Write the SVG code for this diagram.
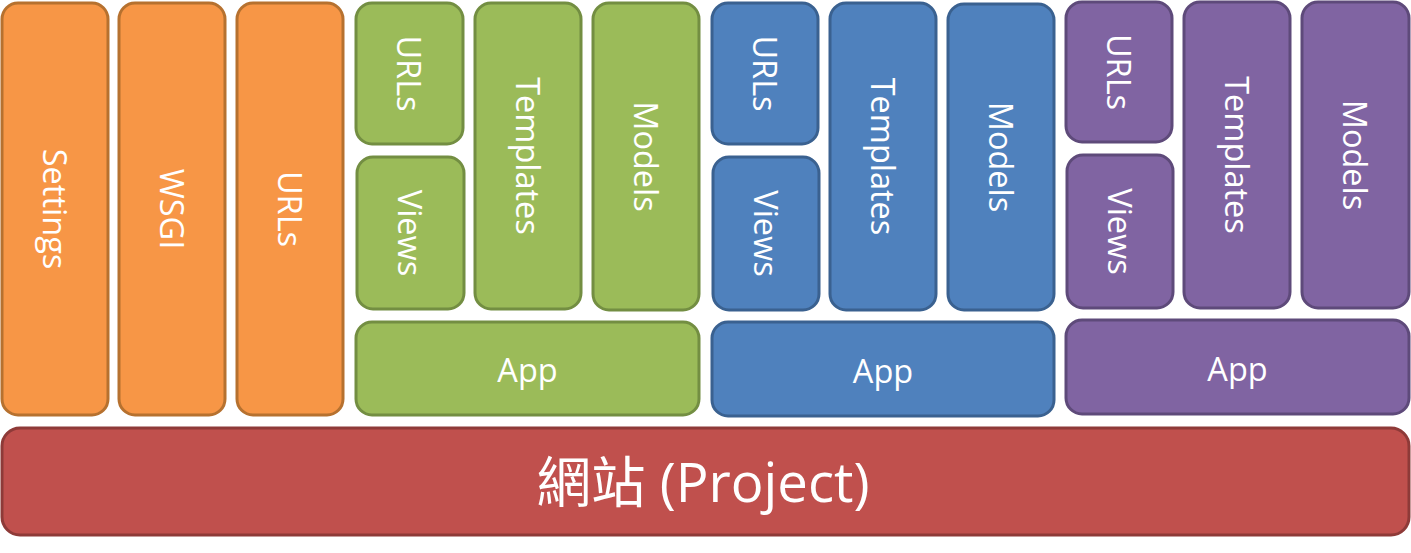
<svg xmlns="http://www.w3.org/2000/svg" width="1411" height="553" viewBox="0 0 1411 553">
<style>
rect{stroke-width:3}
.o rect{fill:#F79646;stroke:#B6712F}
.g rect{fill:#9BBB59;stroke:#738E42}
.b rect{fill:#4F81BD;stroke:#3A6190}
.p rect{fill:#8064A2;stroke:#5E4A7A}
.r rect{fill:#C0504D;stroke:#8E3A38}
text{fill:#fff;font-family:"Open Sans","Noto Sans",sans-serif;font-size:32.5px;text-anchor:middle;dominant-baseline:central}
.big{font-family:"Open Sans","Noto Sans CJK TC",sans-serif;font-size:54.5px}
</style>
<g class="o">
<g id="settings"><rect x="2" y="3" width="106" height="412" rx="16"/><text transform="translate(55,209) rotate(90)">Settings</text></g>
<g id="wsgi"><rect x="119" y="3" width="106" height="412" rx="16"/><text transform="translate(172,209) rotate(90)">WSGI</text></g>
<g id="urls"><rect x="237" y="3" width="106" height="412" rx="16"/><text transform="translate(290,209) rotate(90)">URLs</text></g>
</g>
<g class="g">
<g id="g-urls"><rect x="356" y="3" width="107" height="141" rx="16"/><text transform="translate(409.5,73.5) rotate(90)">URLs</text></g>
<g id="g-views"><rect x="357" y="157" width="107" height="152" rx="16"/><text transform="translate(410.5,233) rotate(90)">Views</text></g>
<g id="g-templates"><rect x="475" y="3" width="106" height="306" rx="16"/><text transform="translate(528,156) rotate(90)">Templates</text></g>
<g id="g-models"><rect x="593" y="3" width="106" height="307" rx="16"/><text transform="translate(646,156.5) rotate(90)">Models</text></g>
<g id="g-app"><rect x="356" y="322" width="343" height="93" rx="16"/><text x="527.5" y="369.5">App</text></g>
</g>
<g class="b">
<g id="b-urls"><rect x="712" y="3" width="106" height="141" rx="16"/><text transform="translate(765,73.5) rotate(90)">URLs</text></g>
<g id="b-views"><rect x="713" y="157" width="106" height="153" rx="16"/><text transform="translate(766,233.5) rotate(90)">Views</text></g>
<g id="b-templates"><rect x="830" y="3" width="106" height="307" rx="16"/><text transform="translate(883,156.5) rotate(90)">Templates</text></g>
<g id="b-models"><rect x="948" y="4" width="106" height="306" rx="16"/><text transform="translate(1001,157) rotate(90)">Models</text></g>
<g id="b-app"><rect x="712" y="322" width="342" height="94" rx="16"/><text x="883" y="370">App</text></g>
</g>
<g class="p">
<g id="p-urls"><rect x="1066" y="2" width="106" height="140" rx="16"/><text transform="translate(1119,72) rotate(90)">URLs</text></g>
<g id="p-views"><rect x="1067" y="155" width="106" height="153" rx="16"/><text transform="translate(1120,231.5) rotate(90)">Views</text></g>
<g id="p-templates"><rect x="1184" y="2" width="106" height="306" rx="16"/><text transform="translate(1237,155) rotate(90)">Templates</text></g>
<g id="p-models"><rect x="1302" y="2" width="107" height="306" rx="16"/><text transform="translate(1355.5,155) rotate(90)">Models</text></g>
<g id="p-app"><rect x="1066" y="320" width="343" height="94" rx="16"/><text x="1237.5" y="368">App</text></g>
</g>
<g class="r">
<g id="project"><rect x="2" y="428" width="1407" height="107" rx="18"/><text class="big" x="703" y="481">網站 (Project)</text></g>
</g>
<g id="connectors"/>
</svg>
